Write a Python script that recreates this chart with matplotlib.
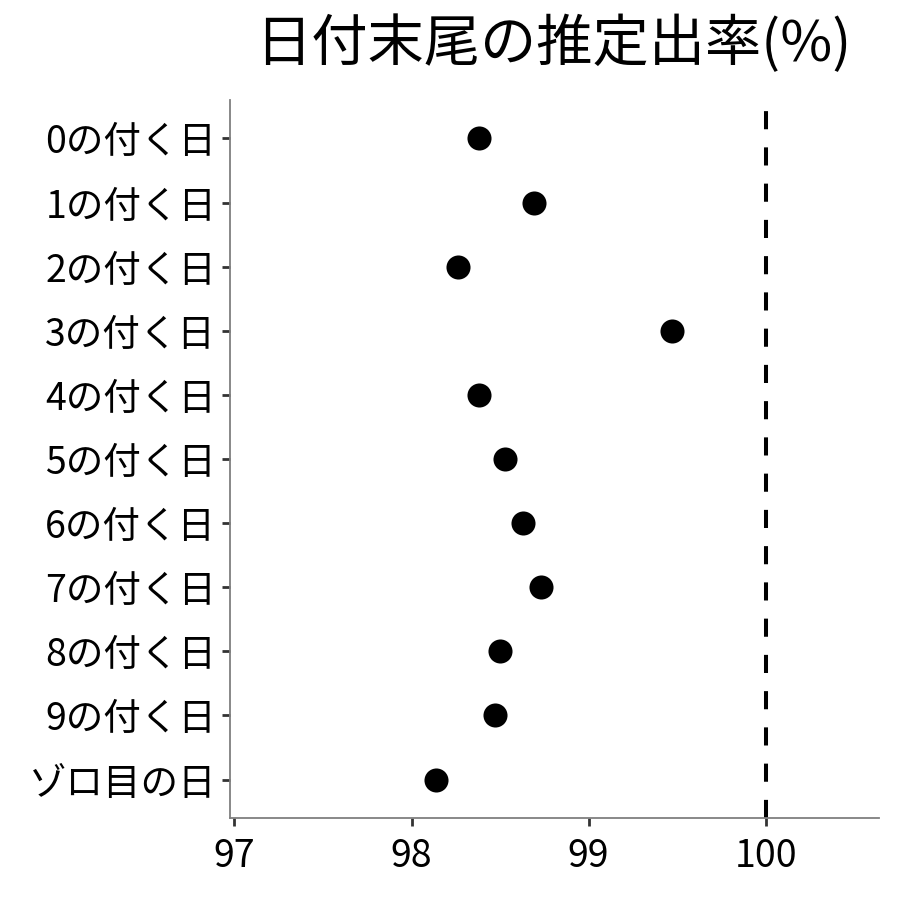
import matplotlib
matplotlib.use("Agg")
import matplotlib.pyplot as plt
import numpy as np

LABELS = ["0の付く日", "1の付く日", "2の付く日", "3の付く日", "4の付く日",
          "5の付く日", "6の付く日", "7の付く日", "8の付く日", "9の付く日", "ゾロ目の日"]
RATES = [98.38, 98.69, 98.26, 99.47, 98.38, 98.53, 98.63, 98.73, 98.50, 98.47, 98.14]
XTICKS = [97, 98, 99, 100]
REF_LINE = 100

plt.rcParams["font.family"] = ["Noto Sans CJK JP", "DejaVu Sans"]

fig = plt.figure(figsize=(9, 9), dpi=100)
ax = fig.add_axes([0.2556, 0.0911, 0.7211, 0.7978])

y = np.arange(len(LABELS))
ax.scatter(RATES, y, s=300, color="black", zorder=3, linewidths=0)
ax.axvline(REF_LINE, color="black", linewidth=2.9, dashes=(4.5, 4.5), zorder=2)

ax.set_xlim(96.975, 100.64)
ax.set_ylim(len(LABELS) - 1 + 0.6, -0.6)
ax.set_xticks(XTICKS)
ax.set_xticklabels([str(t) for t in XTICKS])
ax.set_yticks(y)
ax.set_yticklabels(LABELS)

for side in ["top", "right"]:
    ax.spines[side].set_visible(False)
for side in ["left", "bottom"]:
    ax.spines[side].set_color("#7f7f7f")
    ax.spines[side].set_linewidth(1.3)
ax.tick_params(axis="both", colors="#333333", labelcolor="black", labelsize=27,
               length=6, width=2)
ax.tick_params(axis="x", pad=8)
ax.tick_params(axis="y", pad=4)

fig.text(0.6144, 0.95, "日付末尾の推定出率(%)", ha="center", va="center", fontsize=40.5)

fig.savefig("out.png", dpi=100)
